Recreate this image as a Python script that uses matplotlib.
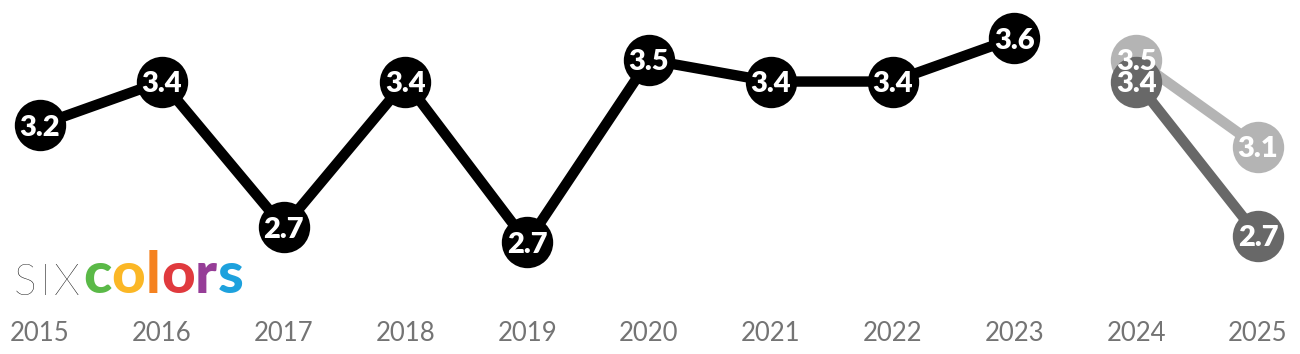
import matplotlib
matplotlib.use("Agg")
import matplotlib.pyplot as plt
import matplotlib.transforms as mtransforms

# ---- data ----
years = [2015, 2016, 2017, 2018, 2019, 2020, 2021, 2022, 2023, 2024, 2025]
main_years = [2015, 2016, 2017, 2018, 2019, 2020, 2021, 2022, 2023]
main_values = [3.2, 3.4, 2.73, 3.4, 2.66, 3.5, 3.4, 3.4, 3.6]
dark_years = [2024, 2025]
dark_values = [3.4, 2.69]
light_years = [2024, 2025]
light_values = [3.5, 3.1]
year_labels = [str(y) for y in years]

plt.rcParams['font.family'] = ['Lato', 'DejaVu Sans']

W, H, DPI = 13.0, 3.54, 100
fig = plt.figure(figsize=(W, H), dpi=DPI)
ax = fig.add_axes([0, 0, 1, 1])
ax.set_xlim(2014.672, 2025.345)
ax.set_ylim(2.147, 3.775)
ax.axis('off')

MS = 37
LW = 7.5

def series(xs, ys, color, z):
    ax.plot(xs, ys, color=color, lw=LW, solid_capstyle='round', zorder=z)
    ax.plot(xs, ys, 'o', color=color, ms=MS, mec='none', zorder=z + 0.5)

series(light_years, light_values, '#b4b4b4', 2)
series(dark_years, dark_values, '#686868', 3)
series(main_years, main_values, '#000000', 4)

for xs, ys in [(main_years, main_values), (dark_years, dark_values), (light_years, light_values)]:
    for x, y in zip(xs, ys):
        ax.text(x, y, f"{y:.1f}", ha='center', va='center_baseline', color='white',
                fontsize=21, fontweight='heavy', zorder=10)

# year labels
trans = mtransforms.blended_transform_factory(ax.transData, ax.transAxes)
for x, lab in zip(years, year_labels):
    ax.text(x, 1 - 331 / 354, lab, transform=trans, ha='center', va='center_baseline',
            fontsize=18.5, color='#747474')

# logo
base_y = 1 - 295 / 354
prev = fig.text(14 / 1300, base_y, "S", fontsize=31, fontweight='light',
                color='#000000', ha='left', va='baseline')
for ch in ['I', 'X']:
    prev = ax.annotate(ch, xy=(1, 0), xycoords=prev, xytext=(2.5, 0),
                       textcoords='offset points', fontsize=31, fontweight='light',
                       color='#000000', va='bottom', ha='left')
letters = ['c', 'o', 'l', 'o', 'r', 's']
colors = ['#5ab947', '#fbb726', '#f58220', '#e03a3e', '#963d97', '#1da1dd']
for i, (ch, c) in enumerate(zip(letters, colors)):
    prev = ax.annotate(ch, xy=(1, 0), xycoords=prev, xytext=(2 if i == 0 else 0.3, 0),
                       textcoords='offset points', fontsize=42, fontweight='black',
                       color=c, va='bottom', ha='left')

fig.savefig('out.png', dpi=DPI)
